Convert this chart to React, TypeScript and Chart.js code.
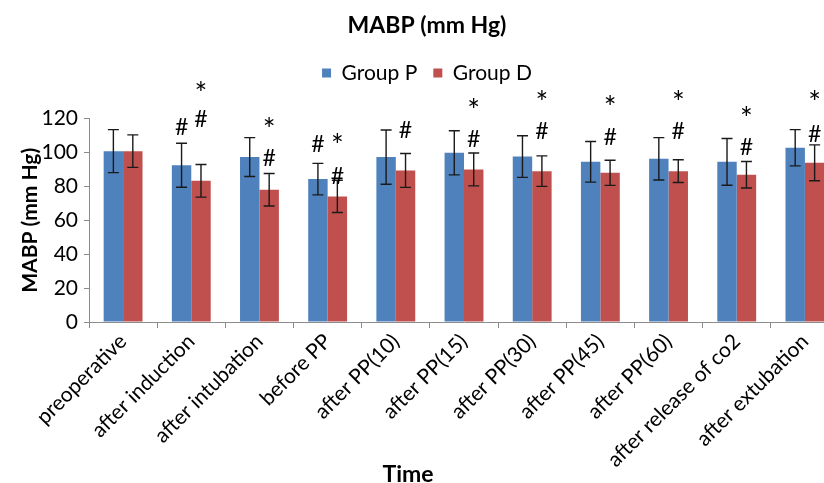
import { useEffect, useRef } from "react";
import { Chart, registerables } from "chart.js";

Chart.register(...registerables);

const categories = [
  "preoperative",
  "after induction",
  "after intubation",
  "before PP",
  "after PP(10)",
  "after PP(15)",
  "after PP(30)",
  "after PP(45)",
  "after PP(60)",
  "after release of co2",
  "after extubation",
];

const groupP = [100.8, 92.5, 97.3, 84.3, 97.3, 99.8, 97.6, 94.5, 96.3, 94.5, 102.8];
const groupD = [100.8, 83.3, 78.0, 74.1, 89.4, 90.0, 89.0, 88.0, 89.0, 86.9, 93.9];
const errP = [12.7, 13.0, 11.5, 9.3, 16.0, 13.0, 12.3, 12.0, 12.5, 13.8, 10.7];
const errD = [9.6, 9.6, 9.6, 9.5, 10.0, 9.7, 9.0, 7.4, 6.7, 7.8, 10.6];

// significance marks, anchored at a value level (mm Hg) above the bar
const hashP = [null, 114.7, null, 104.8, null, null, null, null, null, null, null];
const starP = [null, null, null, null, null, null, null, null, null, null, null];
const hashD = [null, 119.4, 96.6, 86.0, 113.0, 107.7, 112.4, 108.9, 112.4, 103.0, 110.6];
const starD = [null, 138.7, 117.0, 107.7, null, 128.2, 132.9, 130.0, 132.9, 123.5, 132.9];

const yTicks = [0, 20, 40, 60, 80, 100, 120];
const xTitle = "Time";

const FONT = "Lato, 'Open Sans', sans-serif";

const errorBarsPlugin = {
  id: "errorBarsAndMarks",
  afterDatasetsDraw(chart: any) {
    const ctx = chart.ctx;
    const y = chart.scales.y;
    const errs = [errP, errD];
    const vals = [groupP, groupD];
    const hashes = [hashP, hashD];
    const stars = [starP, starD];
    ctx.save();
    for (let d = 0; d < 2; d++) {
      const meta = chart.getDatasetMeta(d);
      meta.data.forEach((bar: any, i: number) => {
        const v = vals[d][i];
        const e = errs[d][i];
        const top = y.getPixelForValue(v + e);
        const bot = y.getPixelForValue(v - e);
        const x = bar.x;
        ctx.strokeStyle = "#1a1a1a";
        ctx.lineWidth = 1.4;
        ctx.beginPath();
        ctx.moveTo(x, top);
        ctx.lineTo(x, bot);
        ctx.moveTo(x - 5.5, top);
        ctx.lineTo(x + 5.5, top);
        ctx.moveTo(x - 5.5, bot);
        ctx.lineTo(x + 5.5, bot);
        ctx.stroke();

        ctx.fillStyle = "#000";
        ctx.textAlign = "center";
        ctx.textBaseline = "middle";
        const h = hashes[d][i];
        if (h !== null) {
          ctx.font = `23px ${FONT}`;
          ctx.fillText("#", x, y.getPixelForValue(h));
        }
        const s = stars[d][i];
        if (s !== null) {
          ctx.font = `30px ${FONT}`;
          ctx.fillText("*", x, y.getPixelForValue(s) + 7);
        }
      });
    }
    ctx.restore();
  },
  afterDraw(chart: any) {
    const ctx = chart.ctx;
    ctx.save();
    ctx.fillStyle = "#000";
    ctx.font = `bold 23px ${FONT}`;
    ctx.textAlign = "center";
    ctx.textBaseline = "alphabetic";
    ctx.fillText(xTitle, 393, chart.height - 1);
    ctx.restore();
  },
};

const legendSpacer = {
  id: "legendSpacer",
  afterInit(chart: any) {
    const legend = chart.legend;
    if (!legend) return;
    const fit = legend.fit;
    legend.fit = function () {
      fit.call(this);
      this.height += 25;
    };
  },
};

export default function App() {
  const ref = useRef<HTMLCanvasElement | null>(null);

  useEffect(() => {
    if (!ref.current) return;
    const chart = new Chart(ref.current, {
      type: "bar",
      data: {
        labels: categories,
        datasets: [
          {
            label: "Group P",
            data: groupP,
            backgroundColor: "#4F81BD",
            borderWidth: 0,
            categoryPercentage: 0.57,
            barPercentage: 1,
          },
          {
            label: "Group D",
            data: groupD,
            backgroundColor: "#C0504D",
            borderWidth: 0,
            categoryPercentage: 0.57,
            barPercentage: 1,
          },
        ],
      },
      options: {
        responsive: false,
        animation: false,
        devicePixelRatio: 1,
        layout: { padding: { left: 0, right: 11, top: 0, bottom: 0 } },
        plugins: {
          title: {
            display: true,
            text: "MABP (mm Hg)",
            color: "#000",
            font: { family: FONT, size: 23, weight: "bold" },
            padding: { top: 12, bottom: 7 },
          },
          legend: {
            display: true,
            position: "top",
            labels: {
              color: "#000",
              font: { family: FONT, size: 21 },
              boxWidth: 9,
              boxHeight: 9,
              padding: 16,
            },
          },
          tooltip: { enabled: false },
        },
        scales: {
          x: {
            grid: {
              display: true,
              drawOnChartArea: false,
              drawTicks: true,
              tickLength: 6,
              color: "#8c8c8c",
              offset: true,
            },
            border: { display: true, color: "#8c8c8c" },
            ticks: {
              color: "#000",
              font: { family: FONT, size: 21 },
              minRotation: 45,
              maxRotation: 45,
              padding: 1,
              autoSkip: false,
            },
            afterFit(scale: any) {
              scale.height = 161;
            },
          },
          y: {
            min: 0,
            max: 120,
            afterBuildTicks(scale: any) {
              scale.ticks = yTicks.map((v) => ({ value: v }));
            },
            grid: {
              display: true,
              drawOnChartArea: false,
              drawTicks: true,
              tickLength: 5,
              color: "#8c8c8c",
            },
            border: { display: true, color: "#8c8c8c" },
            ticks: {
              color: "#000",
              font: { family: FONT, size: 21 },
              padding: 6,
            },
            title: {
              display: true,
              text: "MABP (mm Hg)",
              color: "#000",
              font: { family: FONT, size: 21, weight: "bold" },
              padding: { top: 3, bottom: 0 },
            },
            afterFit(scale: any) {
              scale.width = 74;
            },
          },
        },
      },
      plugins: [errorBarsPlugin, legendSpacer],
    });
    return () => chart.destroy();
  }, []);

  return (
    <div
      style={{
        position: "fixed",
        left: 0,
        top: 0,
        width: 824,
        height: 483,
        overflow: "hidden",
        background: "#fff",
      }}
    >
      <canvas
        ref={ref}
        width={835}
        height={483}
        style={{ display: "block", position: "absolute", left: 15, top: 0 }}
      />
    </div>
  );
}
